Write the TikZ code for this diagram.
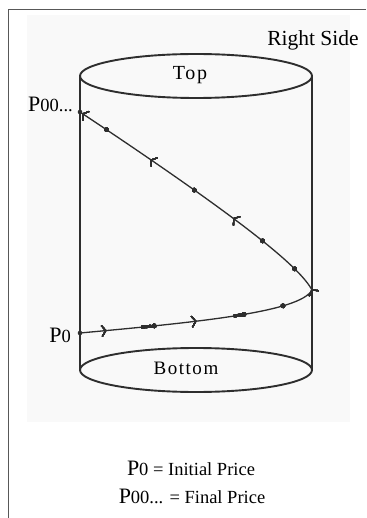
\documentclass[tikz,border=0pt]{standalone}
\usepackage{fontspec}
\setmainfont{Liberation Serif}
\usetikzlibrary{decorations.markings,arrows.meta}
\definecolor{ink}{HTML}{2E2E2E}
\definecolor{bgfill}{HTML}{F9F9F9}
\newcommand{\bigP}{{\fontsize{22}{22}\selectfont P}}
\newcommand{\smalltxt}{\fontsize{18.5}{20}\selectfont}
\tikzset{
  frameline/.style={draw=ink!80, line width=1pt},
  wall/.style={draw=ink, line width=2.4pt},
  rim/.style={draw=ink, line width=1.9pt},
  pathline/.style={draw=ink, line width=1.3pt},
  lbl/.style={inner sep=0pt, text=black},
  tickmark/.style={decoration={markings, mark=at position #1 with {\arrow[ink]{Straight Barb[length=4pt,width=11pt,line width=1.2pt]}}}, postaction={decorate}},
  dotmark/.style={decoration={markings, mark=at position #1 with {\fill[ink] (0pt,0pt) circle[radius=2.3pt];}}, postaction={decorate}},
  dashmark/.style={decoration={markings, mark=at position #1 with {\draw[ink, line width=2.8pt] (-5pt,0pt) -- (5pt,0pt);}}, postaction={decorate}}
}
\begin{document}
\begin{tikzpicture}[x=1pt,y=-1pt]
\useasboundingbox (0,0) rectangle (366,518);
\fill[bgfill] (27,15) rectangle (350,422);
\draw[frameline] (8,518) -- (8,10) -- (366,10);

% cylinder
\coordinate (tl) at (80,77);
\coordinate (tr) at (312,77);
\coordinate (bl) at (80,370);
\coordinate (br) at (312,370);
\draw[wall] (tl) -- (bl);
\draw[wall] (tr) -- (br);
\draw[rim] (196,76) ellipse[x radius=116, y radius=22];
\draw[rim] (196,370) ellipse[x radius=116, y radius=22];

% labels
\node[lbl, anchor=base, font=\fontsize{21.5}{22}\selectfont] (rs) at (313,46) {Right Side};
\node[lbl, anchor=base, font=\fontsize{20}{22}\selectfont\addfontfeature{LetterSpace=8}] (top) at (190,80) {Top};
\node[lbl, anchor=base, font=\fontsize{19}{22}\selectfont\addfontfeature{LetterSpace=8}] (bot) at (186,374) {Bottom};
\node[lbl, anchor=base east] (lp00) at (73,112) {\bigP{\smalltxt 00...}};
\node[lbl, anchor=base east] (lp0) at (71,342) {\bigP{\smalltxt 0}};

% price path
\coordinate (p0) at (80,333);
\coordinate (v) at (312,290);
\coordinate (p00) at (80,112);
\draw[pathline,
  tickmark=0.05, dashmark=0.125, dotmark=0.14, tickmark=0.22, dashmark=0.30, dotmark=0.31, dotmark=0.385,
  tickmark=0.45, dotmark=0.50, dotmark=0.58, tickmark=0.65, dotmark=0.74, tickmark=0.84, dotmark=0.94, tickmark=0.995]
  (p0) .. controls (200,322) and (300,312) .. (v)
       .. controls (300,268) and (250,225) .. (p00);
\fill[ink] (p0) circle[radius=2.3pt];
\fill[ink] (p00) circle[radius=2.3pt];

% legend
\node[lbl, anchor=base] (leg1) at (191,475) {\bigP{\smalltxt 0 = Initial Price}};
\node[lbl, anchor=base] (leg2) at (192,503) {\bigP{\smalltxt 00... = Final Price}};
\end{tikzpicture}
\end{document}
